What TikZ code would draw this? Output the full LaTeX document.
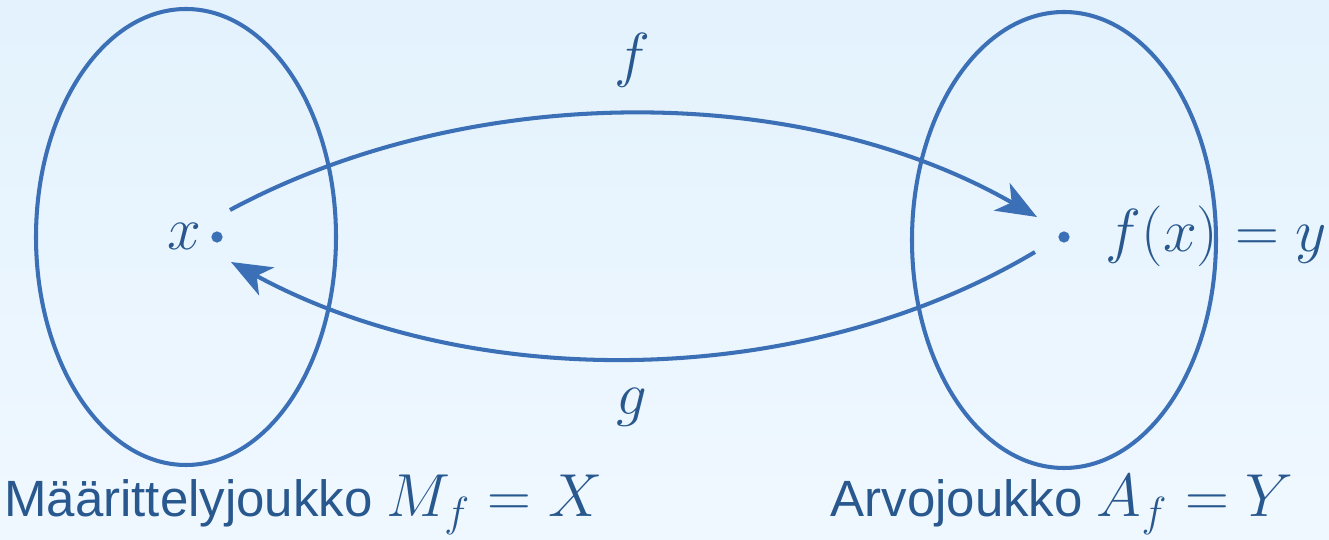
\documentclass[tikz,border=0pt]{standalone}
\usepackage{fontspec}
\newfontfamily\arial{Liberation Sans}
\usetikzlibrary{arrows.meta}
\definecolor{linec}{RGB}{59,111,182}
\definecolor{textc}{RGB}{40,88,142}
\definecolor{bgtop}{RGB}{227,242,253}
\definecolor{bgbot}{RGB}{240,248,255}
\newcommand{\txtsize}{\fontsize{14.5}{18}\selectfont}
\newcommand{\mathsz}{\fontsize{17.8}{21}\selectfont}
\tikzset{
  setell/.style={draw=linec, line width=1.15pt},
  mapar/.style={draw=linec, line width=1.15pt, -{Stealth[length=11.5pt,width=9pt,inset=3.2pt]}},
  pt/.style={circle, fill=linec, inner sep=0pt, minimum size=3.2pt},
  lbl/.style={text=textc, inner sep=0pt, anchor=base},
  mlbl/.style={text=textc, font=\fontsize{17.6}{21}\selectfont, inner sep=0pt},
}
\begin{document}
\begin{tikzpicture}[x=0.01cm,y=-0.01cm]
\shade[top color=bgtop, bottom color=bgbot] (0,0) rectangle (1329,540);
\useasboundingbox (0,0) rectangle (1329,540);
\draw[setell] (186,237) ellipse [x radius=150, y radius=228];
\draw[setell] (1064,240) ellipse [x radius=152, y radius=228];
\node[pt] (px) at (217,237) {};
\node[pt] (py) at (1064,237) {};
\node[mlbl, anchor=east] (lx) at (202,236) {$x$};
\node[mlbl, anchor=west] (ly) at (1105,236) {$f(x)=y$};
\coordinate (fs) at (230,210);
\coordinate (fe) at (1037,217);
\coordinate (gs) at (1035,252);
\coordinate (ge) at (231,262);
\draw[mapar] (fs) .. controls (470,81) and (800,81) .. (fe);
\draw[mapar] (gs) .. controls (800,392) and (470,392) .. (ge);
\node[mlbl] (lf) at (632,60) {$f$};
\node[mlbl] (lg) at (632,407) {$g$};
\node[lbl] (lm) at (303.5,517) {\arial\txtsize Määrittelyjoukko \mathsz$M_f=X$};
\node[lbl] (la) at (1062,517) {\arial\txtsize Arvojoukko \mathsz$A_f=Y$};
\end{tikzpicture}
\end{document}
